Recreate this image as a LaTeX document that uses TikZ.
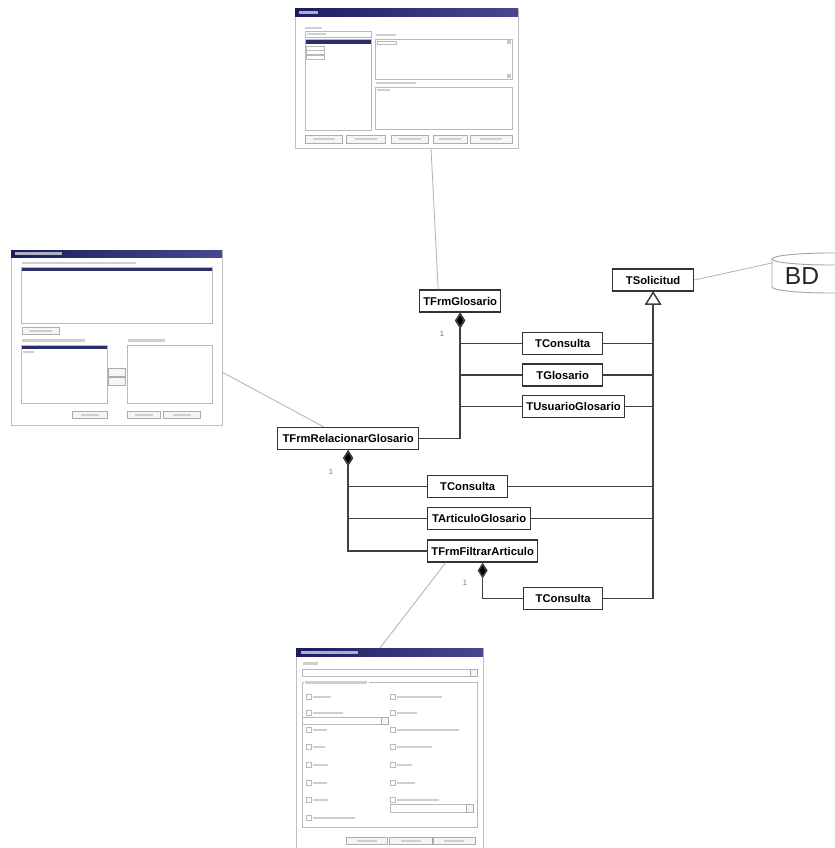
\documentclass[tikz,border=0pt]{standalone}
\usepackage{fontspec}
\newfontfamily\umlfont{Liberation Sans}
\usepackage{xcolor}
\usepackage{tikz}
\usetikzlibrary{arrows.meta, shapes.geometric, calc, positioning}

\definecolor{titlenavy}{RGB}{28,28,96}
\definecolor{titlenavyb}{RGB}{72,72,142}
\definecolor{rowsel}{RGB}{42,46,104}

\begin{document}
\begin{tikzpicture}[x=0.03cm, y=-0.03cm,
  cls/.style={draw=black!80, line width=1.1pt, fill=white, anchor=west,
    font=\umlfont\bfseries\fontsize{9.6}{10}\selectfont,
    minimum height=0.66cm, inner xsep=1pt},
  link/.style={draw=black!75, line width=1.3pt},
  comp/.style={link, {Diamond[length=13.5pt,width=8.5pt,fill=black]}-},
  gen/.style={link, -{Triangle[open,fill=white,length=11pt,width=13.5pt,line width=1pt]}},
  winlink/.style={draw=gray!60, line width=0.7pt},
  mult/.style={font=\umlfont\fontsize{6.5}{7}\selectfont, text=black!55},
  frame/.style={draw=gray!50, line width=0.5pt, fill=white},
  widget/.style={draw=gray!55, line width=0.4pt, fill=white},
  lbl/.style={fill=gray!38},
  btn/.style={draw=gray!65, line width=0.5pt, fill=gray!8}]

% Canvas
\fill[white] (0,0) rectangle (834,848);
\useasboundingbox (0,0) rectangle (834,848);

% ---------- Form: glossary editor (top) ----------
\draw[frame] (295,9) rectangle (518,148);
\shade[left color=titlenavy, right color=titlenavyb] (295,9) rectangle (518,17);
\fill[white!65!titlenavy] (299,11.5) rectangle (318,14.5);
\fill[lbl] (305,27) rectangle (322,29.5);
\draw[widget] (305,31) rectangle (371,37);
\fill[lbl] (307,33) rectangle (326,35);
\draw[widget] (305,39) rectangle (371,130);
\fill[rowsel] (305.5,40.5) rectangle (370.5,44.5);
\foreach \y in {46,50.5,55}
  \draw[widget] (306,\y) rectangle (324,\y+3.8);
\fill[lbl] (376,34) rectangle (396,36);
\draw[widget] (375,39) rectangle (512,79);
\draw[widget] (377,41) rectangle (396,44);
\fill[gray!45] (507,40) rectangle (511,44);
\fill[gray!45] (507,74) rectangle (511,78);
\fill[lbl] (376,82) rectangle (416,84.5);
\draw[widget] (375,87) rectangle (512,129);
\fill[lbl] (377,89) rectangle (390,91);
\foreach \a/\b in {305/342, 346/385, 391/428, 433/467, 470/512} {
  \draw[btn] (\a,135) rectangle (\b,143);
  \fill[lbl] ({(\a+\b)/2-11},138) rectangle ({(\a+\b)/2+11},140);
}
\coordinate (wglos) at (431,148);

% ---------- Form: relate glossaries (left) ----------
\draw[frame] (11,250) rectangle (222,425);
\shade[left color=titlenavy, right color=titlenavyb] (11,250) rectangle (222,257);
\fill[white!65!titlenavy] (15,252) rectangle (62,255);
\fill[lbl] (22,261.5) rectangle (136,264);
\draw[widget] (21,267) rectangle (212,323);
\fill[rowsel] (21.5,267.5) rectangle (211.5,271);
\draw[btn] (22,327) rectangle (59,334);
\fill[lbl] (29,329.5) rectangle (52,331.5);
\fill[lbl] (22,339) rectangle (85,341.5);
\fill[lbl] (128,339) rectangle (165,341.5);
\draw[widget] (21,345) rectangle (107,403);
\fill[rowsel] (21.5,345.5) rectangle (106.5,349);
\fill[lbl] (23,351) rectangle (34,353);
\draw[btn] (108,368) rectangle (125,376);
\draw[btn] (108,377) rectangle (125,385);
\draw[widget] (127,345) rectangle (212,403);
\foreach \a/\b in {72/107, 127/160, 163/200} {
  \draw[btn] (\a,411) rectangle (\b,418);
  \fill[lbl] ({(\a+\b)/2-9},413.5) rectangle ({(\a+\b)/2+9},415.5);
}
\coordinate (wrel) at (222,372);

% ---------- Form: filter articles (bottom) ----------
\draw[frame] (296,648) rectangle (483,852);
\shade[left color=titlenavy, right color=titlenavyb] (296,648) rectangle (483,656);
\fill[white!65!titlenavy] (301,650.5) rectangle (358,653.5);
\fill[lbl] (303,662) rectangle (318,664.5);
\draw[widget] (302,669) rectangle (477,676);
\draw[btn] (470,669) rectangle (477,676);
\draw[widget] (302,682) rectangle (477,827);
\fill[white] (304,680) rectangle (369,684);
\fill[lbl] (305,681) rectangle (367,683.5);
% check boxes, left column
\foreach \y/\len in {697/18, 713/30, 730/14, 747/12, 765/15, 783/14, 800/15, 818/42} {
  \draw[widget] (306,\y-2.5) rectangle (311,\y+2.5);
  \fill[lbl] (313,\y-1.2) rectangle (313+\len,\y+1.2);
}
% check boxes, right column
\foreach \y/\len in {697/45, 713/20, 730/62, 747/35, 765/15, 783/18, 800/42} {
  \draw[widget] (390,\y-2.5) rectangle (395,\y+2.5);
  \fill[lbl] (397,\y-1.2) rectangle (397+\len,\y+1.2);
}
\draw[widget] (302,717) rectangle (388,724);
\draw[btn] (381,717) rectangle (388,724);
\draw[widget] (390,804) rectangle (473,812);
\draw[btn] (466,804) rectangle (473,812);
\foreach \a/\b in {346/387, 389/432, 433/475} {
  \draw[btn] (\a,837) rectangle (\b,844);
  \fill[lbl] ({(\a+\b)/2-10},839.5) rectangle ({(\a+\b)/2+10},841.5);
}
\coordinate (wfil) at (380,648);

% ---------- Database ----------
\draw[draw=gray!70, line width=0.8pt, fill=white]
  (772,259) -- (772,287) arc[start angle=180, end angle=360, x radius=1.74cm, y radius=0.18cm]
  -- (888,259);
\draw[draw=gray!70, line width=0.8pt] (830,259) ellipse [x radius=1.74cm, y radius=0.18cm];
\node[font=\umlfont\fontsize{21}{22}\selectfont, text=black!85] (bd) at (802,276) {BD};
\coordinate (bdedge) at (772,263);

% ---------- Classes ----------
\node[cls, minimum width=2.43cm] (tsolicitud) at (612,280) {TSolicitud};
\node[cls, minimum width=2.43cm] (glosario) at (419,301) {TFrmGlosario};
\node[cls, minimum width=2.4cm] (consultaA) at (522,343.5) {TConsulta};
\node[cls, minimum width=2.4cm] (tglosario) at (522,375) {TGlosario};
\node[cls, minimum width=3.06cm] (usuario) at (522,406.5) {TUsuarioGlosario};
\node[cls, minimum width=4.23cm] (relacionar) at (277,438.5) {TFrmRelacionarGlosario};
\node[cls, minimum width=2.4cm] (consultaB) at (427,486.5) {TConsulta};
\node[cls, minimum width=3.09cm] (articulo) at (427,518.5) {TArticuloGlosario};
\node[cls, minimum width=3.3cm] (filtrar) at (427,551) {TFrmFiltrarArticulo};
\node[cls, minimum width=2.37cm] (consultaC) at (523,598.5) {TConsulta};

% Multiplicities
\node[mult] (multA) at (442,334) {1};
\node[mult] (multB) at (331,472) {1};
\node[mult] (multC) at (465,583) {1};

% Form screens and database links
\draw[winlink] (wglos) -- ($(glosario.north)+(-22,0)$);
\draw[winlink] (wrel) -- ($(relacionar.north)+(-24.5,0)$);
\draw[winlink] (wfil) -- ($(filtrar.south)+(-37,0)$);
\draw[winlink] (tsolicitud.east) -- (bdedge);

% Compositions
\foreach \part in {consultaA, tglosario, usuario}
  \draw[comp] (glosario.south) |- (\part.west);
\draw[comp] (glosario.south) |- (relacionar.east);
\foreach \part in {consultaB, articulo, filtrar}
  \draw[comp] (relacionar.south) |- (\part.west);
\draw[comp] (filtrar.south) |- (consultaC.west);

% Generalizations
\foreach \sub in {consultaA, tglosario, usuario, consultaB, articulo, consultaC}
  \draw[gen] (\sub.east) -| (tsolicitud.south);

\end{tikzpicture}
\end{document}
